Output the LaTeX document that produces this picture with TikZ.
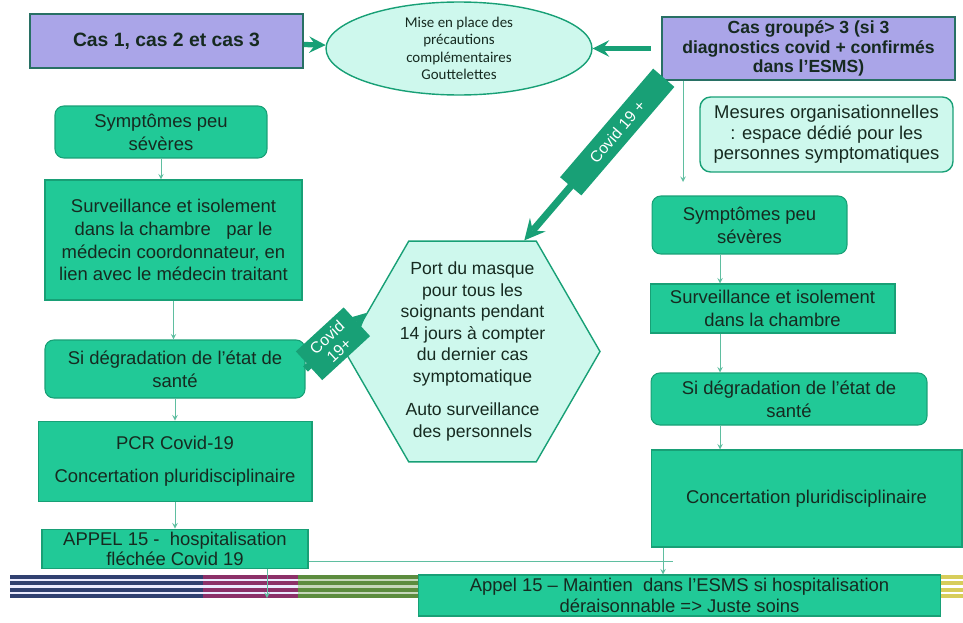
\documentclass[tikz,border=0pt]{standalone}
\usepackage{fontspec}
\setmainfont{Liberation Sans}
\newfontfamily\petite{Carlito}
\usetikzlibrary{arrows, shapes.geometric, positioning}

\definecolor{vert}{RGB}{33,201,151}
\definecolor{vertfonce}{RGB}{24,160,118}
\definecolor{violet}{RGB}{170,165,232}
\definecolor{bordviolet}{RGB}{40,112,100}
\definecolor{cyanpale}{RGB}{206,248,237}
\definecolor{texte}{RGB}{22,42,32}
\definecolor{filet}{RGB}{95,190,160}
\definecolor{marine}{RGB}{48,64,112}
\definecolor{prune}{RGB}{140,48,104}
\definecolor{olive}{RGB}{92,140,62}
\definecolor{jaune}{RGB}{215,205,90}

\begin{document}
\begin{tikzpicture}[
            x = 0.02cm, y = -0.02cm, % one unit = one pixel of the slide
            > = stealth, % arrow head style
            semithick, % line style
            node distance = 0.44cm
        ]

        \tikzstyle{boite}=[
            draw = vertfonce,
            fill = vert,
            text = texte,
            align = center,
            inner sep = 1pt,
            font = \fontsize{10.5}{13}\selectfont
        ]
        \tikzstyle{arrondi}=[boite, rounded corners = 5pt]
        \tikzstyle{violette}=[
            draw = bordviolet,
            line width = 1.2pt,
            fill = violet,
            text = texte,
            align = center,
            inner sep = 0pt,
            font = \bfseries\fontsize{10}{11.3}\selectfont
        ]
        \tikzstyle{pale}=[boite, fill = cyanpale, thick, font = \fontsize{10.5}{11.6}\selectfont]
        \tikzstyle{fil}=[->, draw = filet, thin]
        \tikzstyle{grosse}=[->, draw = vertfonce, line width = 3pt]
        \tikzstyle{etiquette}=[fill = vertfonce, text = white, sloped, inner sep = 1pt, align = center]

        \useasboundingbox (0,0) rectangle (963,622);

        % bandes du bas de la diapositive
        \foreach \xa/\xb/\coul/\clair in {10/203/marine/blue!8!white, 203/298/prune/blue!8!white, 298/430/olive/olive!35!white, 938/963/jaune/white}{
            \fill[\coul] (\xa,575) rectangle (\xb,598);
            \foreach \yy in {580,586.5,593}
                \fill[\clair] (\xa,\yy-1.3) rectangle (\xb,\yy+1.3);
        }

        % en-tete
        \node[violette, minimum width = 5.46cm, minimum height = 1.08cm, font = \bfseries\fontsize{11}{13}\selectfont] (cas) at (166.5,41) {Cas 1, cas 2 et cas 3};
        \node[pale, ellipse, inner sep = 0pt, minimum width = 5.32cm, minimum height = 1.86cm, font = \petite\fontsize{8.5}{10}\selectfont] (precau) at (459,48.5) {Mise en place des\\précautions\\complémentaires\\Gouttelettes};
        \node[violette, minimum width = 5.86cm, minimum height = 1.26cm] (groupe) at (808.5,48.5) {Cas groupé> 3 (si 3\\diagnostics covid + confirmés\\dans l'ESMS)};
        \node[pale, rounded corners = 6pt, minimum width = 5.06cm, minimum height = 1.5cm] (mesures) at (826.5,134.5) {Mesures organisationnelles\\: espace dédié pour les\\personnes symptomatiques};

        % colonne de gauche
        \node[arrondi, minimum width = 4.24cm, minimum height = 1.04cm] (symptG) at (161,132) {Symptômes peu\\sévères};
        \node[boite, minimum width = 5.14cm, minimum height = 2.4cm] (survG) at (173.5,240) {Surveillance et isolement\\dans la chambre \ \ par le\\médecin coordonnateur, en\\lien avec\ le médecin traitant};
        \node[arrondi, minimum width = 5.2cm, minimum height = 1.16cm] (degrG) at (175,369) {Si dégradation de l'état de\\santé};
        \node[boite, minimum width = 5.48cm, minimum height = 1.6cm, below = of degrG] (pcrG) {PCR Covid-19\\[6pt]Concertation pluridisciplinaire};
        \node[boite, minimum width = 5.32cm, minimum height = 0.78cm, inner sep = 0pt, font = \fontsize{10.5}{11.5}\selectfont, below = 0.54cm of pcrG] (appelG) {APPEL 15 -\ \ hospitalisation\\fléchée Covid 19};

        % colonne de droite
        \node[arrondi, minimum width = 3.9cm, minimum height = 1.16cm] (symptD) at (749.5,225) {Symptômes peu\\sévères};
        \node[boite, minimum width = 4.9cm, minimum height = 0.98cm] (survD) at (772.5,308.5) {Surveillance et isolement\\dans la chambre};
        \node[arrondi, minimum width = 5.52cm, minimum height = 1.04cm] (degrD) at (789,399) {Si dégradation de l'état de\\santé};
        \node[boite, minimum width = 6.22cm, minimum height = 1.94cm] (concertD) at (806.5,498.5) {Concertation pluridisciplinaire};
        \node[boite, minimum width = 10.46cm, minimum height = 0.82cm, inner sep = 0pt, font = \fontsize{10.5}{12}\selectfont] (appelD) at (679.5,595.5) {Appel 15 – Maintien\ \ dans l'ESMS si hospitalisation\\déraisonnable => Juste soins};

        % hexagone central
        \node[regular polygon, regular polygon sides = 6, draw = vertfonce, thick, fill = cyanpale, minimum size = 5.1cm, inner sep = 0pt] (hexa) at (472.5,351.5) {};
        \node[text = texte, align = center, font = \fontsize{10}{12.2}\selectfont] (hexatxt) at (hexa) {Port du masque\\pour tous les\\soignants pendant\\14 jours à compter\\du dernier cas\\symptomatique\\[7pt]Auto surveillance\\des personnels};

        \coordinate (colD) at (720,0);
        \coordinate (colB) at (663,0);
        \coordinate (basD) at (683,182);
        \coordinate (jonction) at (673,561);
        \coordinate (basG) at (267,598);

        % fleches
        \draw[grosse] (cas) -- (precau);
        \draw[grosse, shorten < = 0.2cm] (groupe.west) -- (precau.east);
        \draw[grosse, line width = 4pt] (groupe.south west) -- node[etiquette, pos = 0.32, minimum width = 2.86cm, minimum height = 0.56cm, font = \fontsize{9}{10}\selectfont] (covidA) {Covid 19 +} (hexa.65);
        \draw[grosse, line width = 4pt] (degrG.east) -- node[etiquette, pos = 0.45, minimum width = 1.3cm, minimum height = 0.78cm, font = \fontsize{9}{10}\selectfont] (covidB) {Covid\\19+} (hexa.160);

        \draw[fil] (symptG.south) -- (symptG.south |- survG.north);
        \draw[fil] (survG.south) -- (survG.south |- degrG.north);
        \draw[fil] (degrG.south) -- (degrG.south |- pcrG.north);
        \draw[fil] (pcrG.south) -- (pcrG.south |- appelG.north);
        \draw[fil] (appelG.south -| basG) -- (basG);
        \draw[filet, thin] (appelG.east |- jonction) -- (jonction);

        \draw[fil] (basD |- groupe.south) -- (basD);
        \draw[fil] (symptD.south -| colD) -- (survD.north -| colD);
        \draw[fil] (survD.south -| colD) -- (degrD.north -| colD);
        \draw[fil] (degrD.south -| colD) -- (concertD.north -| colD);
        \draw[fil] (concertD.south -| colB) -- (appelD.north -| colB);
    \end{tikzpicture}
\end{document}
